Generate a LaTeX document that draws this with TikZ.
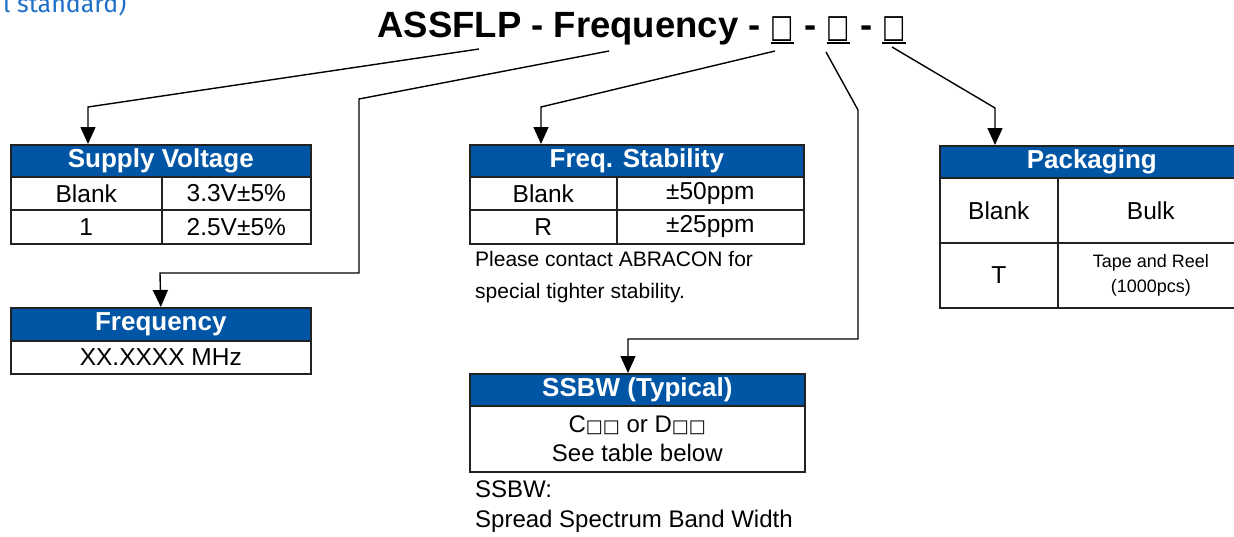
\documentclass[tikz,border=0pt]{standalone}
\usepackage{fontspec}
\setmainfont{Liberation Sans}
\newfontfamily\djv{DejaVu Sans}
\newfontfamily\fira{Fira Sans}
\usetikzlibrary{arrows.meta}
\definecolor{hblue}{HTML}{0055A5}
\definecolor{tblue}{HTML}{1F6FC8}
\definecolor{bord}{HTML}{222222}
\newcommand\ulbox{\setbox0\hbox{\scalebox{0.85}[1.12]{\djv\fontsize{29}{29}\selectfont □}}\rlap{\raisebox{-7pt}{\rule{\wd0}{2pt}}}\box0}
\newcommand\smsq{{\djv\fontsize{18}{18}\selectfont □□}}
\begin{document}
\begin{tikzpicture}[x=1pt,y=-1pt,
 hdr/.style={draw=bord,line width=1.6pt,fill=hblue,text=white,font=\fontsize{26}{28}\selectfont\bfseries,inner sep=0pt,anchor=north west,minimum height=32pt},
 cell/.style={draw=bord,line width=1.6pt,font=\fontsize{24.5}{28}\selectfont,inner sep=0pt,anchor=north west},
 note/.style={font=\fontsize{21}{24}\selectfont,anchor=base west,inner sep=0pt},
 bignote/.style={font=\fontsize{24}{28}\selectfont,anchor=base west,inner sep=0pt},
 conn/.style={line width=1.4pt,line join=miter},
 arr/.style={conn,-{Triangle[width=15pt,length=17pt]}},
]
\useasboundingbox (0,0) rectangle (1234,536);

% corner text and title
\node[anchor=base west,font=\fira\fontsize{25}{25}\selectfont,text=tblue,inner sep=0pt] (std) at (3,12) {l standard)};
\node[anchor=base,font=\fontsize{36.5}{40}\selectfont\bfseries,inner sep=0pt] (title) at (641.5,37) {ASSFLP - Frequency - \ulbox{} - \ulbox{} - \ulbox{}};

% Supply Voltage
\node[hdr,minimum width=300pt] (svh) at (10,144) {Supply Voltage};
\node[cell,minimum width=151pt,minimum height=33pt] (sv11) at (10,176) {Blank};
\node[cell,minimum width=149pt,minimum height=33pt] (sv12) at (161,176) {3.3V±5\%};
\node[cell,minimum width=151pt,minimum height=34pt] (sv21) at (10,209) {1};
\node[cell,minimum width=149pt,minimum height=34pt] (sv22) at (161,209) {2.5V±5\%};

% Frequency
\node[hdr,minimum width=300pt,minimum height=33pt] (fqh) at (10,307) {Frequency};
\node[cell,minimum width=300pt,minimum height=33pt] (fq1) at (10,340) {XX.XXXX MHz};

% Freq. Stability
\node[hdr,minimum width=334pt] (fsh) at (469,144) {Freq. Stability};
\node[cell,minimum width=147pt,minimum height=33pt] (fs11) at (469,176) {Blank};
\node[cell,minimum width=187pt,minimum height=33pt] (fs12) at (616,176) {±50ppm};
\node[cell,minimum width=147pt,minimum height=34pt] (fs21) at (469,209) {R};
\node[cell,minimum width=187pt,minimum height=34pt] (fs22) at (616,209) {±25ppm};
\node[note] (n1) at (475,266) {Please contact ABRACON for};
\node[note] (n2) at (475,298) {special tighter stability.};

% SSBW
\node[hdr,minimum width=335pt] (ssh) at (469,373) {SSBW (Typical)};
\node[cell,minimum width=335pt,minimum height=66pt,align=center,font=\fontsize{24}{29}\selectfont] (ss1) at (469,405) {C\smsq{} or D\smsq\\See table below};
\node[bignote] (n3) at (475,497) {SSBW:};
\node[bignote] (n4) at (475,527) {Spread Spectrum Band Width};

% Packaging
\node[hdr,minimum width=304pt] (pkh) at (939,145) {Packaging};
\node[cell,minimum width=118pt,minimum height=65pt] (pk11) at (939,177) {Blank};
\node[cell,minimum width=186pt,minimum height=65pt] (pk12) at (1057,177) {Bulk};
\node[cell,minimum width=118pt,minimum height=65pt] (pk21) at (939,242) {T};
\node[cell,minimum width=186pt,minimum height=65pt,align=center,font=\fontsize{18}{25}\selectfont] (pk22) at (1057,242) {Tape and Reel\\(1000pcs)};

% connector points
\coordinate (t1) at (479,49);
\coordinate (c1) at (88,107);
\coordinate (t2) at (609,51);
\coordinate (c2a) at (359,99);
\coordinate (c2b) at (160,273);
\coordinate (t3) at (775,51);
\coordinate (c3) at (541,107);
\coordinate (t4) at (826,52);
\coordinate (c4a) at (858,110);
\coordinate (c4b) at (628,339);
\coordinate (t5) at (892,47);
\coordinate (c5) at (995,108);

\draw[arr] (t1) -- (c1) -- (c1 |- svh.north);
\draw[arr] (t2) -- (c2a) -- (c2a |- c2b) -- (c2b) -- (fqh.north);
\draw[arr] (t3) -- (c3) -- (c3 |- fsh.north);
\draw[arr] (t4) -- (c4a) -- (c4a |- c4b) -- (c4b) -- (c4b |- ssh.north);
\draw[arr] (t5) -- (c5) -- (c5 |- pkh.north);
\end{tikzpicture}
\end{document}
